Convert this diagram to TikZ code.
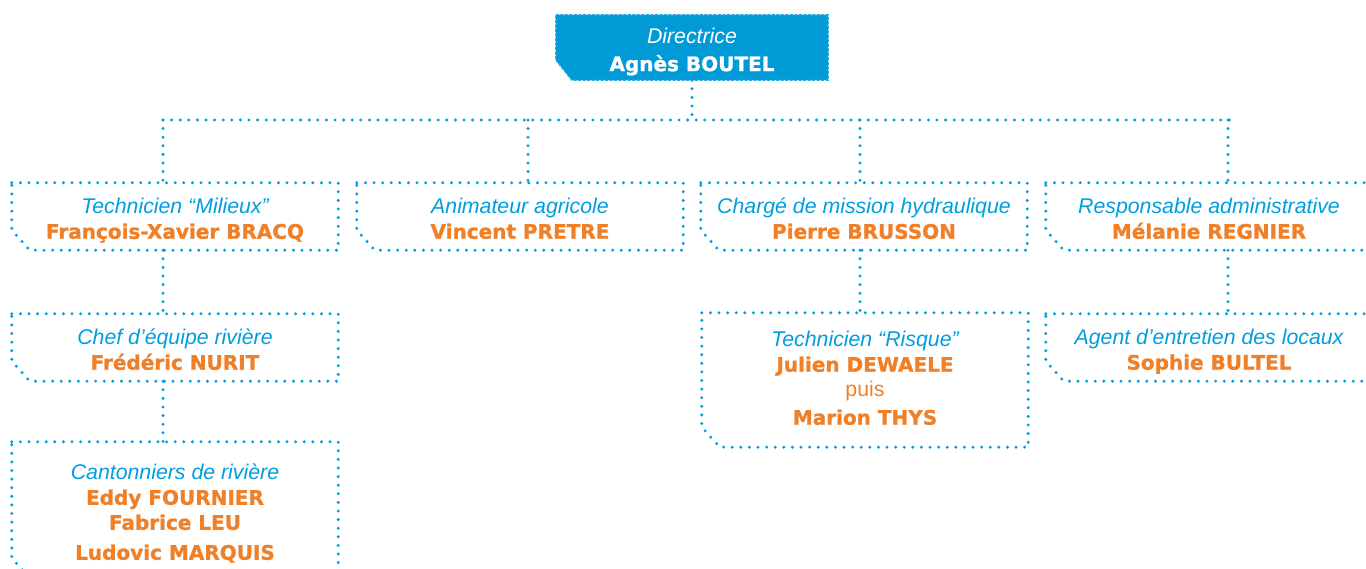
\documentclass[tikz,border=0pt]{standalone}
\usepackage{fontspec}
\usepackage{xcolor}
\usepackage{tikz}
\usetikzlibrary{backgrounds}
\setmainfont{Liberation Sans}
\newfontfamily\namefont{DejaVu Sans}[BoldFeatures={FakeBold=1.2}]
\definecolor{sky}{RGB}{0,158,224}
\definecolor{boss}{RGB}{0,155,215}
\definecolor{ember}{RGB}{240,128,40}
\def\role#1{{\rule{0pt}{23.5pt}\itshape\color{sky}#1}}
\def\who#1{{\namefont\bfseries\fontsize{20}{25}\selectfont\color{ember}#1\rule[-4pt]{0pt}{0pt}}}
\def\chamfer#1{\draw[dots] (#1.north west) -- (#1.north east) -- (#1.south east) -- ([xshift=18pt]#1.south west) -- ([yshift=20pt]#1.south west) -- cycle}
\tikzstyle{dots}=[sky,line width=3.3pt,line cap=round,dash pattern=on 0pt off 8.6pt]
\tikzstyle{card}=[minimum width=326pt,minimum height=67pt,inner sep=0pt,align=center,font=\fontsize{21.3}{25}\selectfont]
\tikzstyle{head}=[card,minimum width=272pt,minimum height=65pt,text=white]

\begin{document}
\begin{tikzpicture}[x=1pt,y=-1pt]
    \useasboundingbox (0,0) rectangle (1366,569);
    \clip (0,0) rectangle (1366,569);
    \node[head] (dir) at (692,47.5) {{\rule{0pt}{23.5pt}\itshape Directrice}\\[3pt]{\namefont\bfseries\fontsize{20}{25}\selectfont Agnès BOUTEL\rule[-4pt]{0pt}{0pt}}};
    \begin{scope}[on background layer]
      \fill[boss] (dir.north west) -- (dir.north east) -- (dir.south east) -- ([xshift=16pt]dir.south west) -- ([yshift=20pt]dir.south west) -- cycle;
      \draw[boss!85!white,line width=1.2pt,dash pattern=on 3pt off 1.5pt] (dir.north west) -- (dir.north east) -- (dir.south east) -- ([xshift=16pt]dir.south west) -- ([yshift=20pt]dir.south west) -- cycle;
    \end{scope}
    \node[card] (milieux) at (175,216.5) {\role{Technicien “Milieux”}\\\who{François-Xavier BRACQ}};
    \node[card] (agri) at (520,216.5) {\role{Animateur agricole}\\\who{Vincent PRETRE}};
    \node[card] (hydro) at (864,216.5) {\role{Chargé de mission hydraulique}\\\who{Pierre BRUSSON}};
    \node[card] (admin) at (1209,216.5) {\role{Responsable administrative}\\\who{Mélanie REGNIER}};
    \node[card] (chef) at (175,347.5) {\role{Chef d’équipe rivière}\\\who{Frédéric NURIT}};
    \node[card,minimum height=136pt] (canto) at (175,510) {\role{Cantonniers de rivière}\\\who{Eddy FOURNIER}\\\who{Fabrice LEU}\\[5pt]\who{Ludovic MARQUIS}};
    \node[card,minimum height=134pt] (risque) at (865,380) {{\itshape\color{sky}Technicien “Risque”}\\\who{Julien DEWAELE}\\{\color{ember}puis}\\[3pt]\who{Marion THYS}};
    \node[card] (agent) at (1209,347.5) {\role{Agent d’entretien des locaux}\\\who{Sophie BULTEL}};
    \foreach \n in {milieux,agri,hydro,admin,chef,canto,risque,agent} {\chamfer{\n};}
    % liaisons
    \coordinate (busw) at (163,120);
    \coordinate (buse) at (1230,120);
    \draw[dots] (dir.south) -- (dir.south |- busw);
    \draw[dots] (busw) -- (buse);
    \foreach \x/\n in {163/milieux,528/agri,860/hydro,1228/admin} {
      \coordinate (tap\n) at (\x,120);
      \draw[dots] (tap\n) -- (tap\n |- \n.north);
    }
    \draw[dots] (milieux.south -| tapmilieux) -- (chef.north -| tapmilieux);
    \draw[dots] (chef.south -| tapmilieux) -- (canto.north -| tapmilieux);
    \draw[dots] (hydro.south -| taphydro) -- (risque.north -| taphydro);
    \draw[dots] (admin.south -| tapadmin) -- (agent.north -| tapadmin);
\end{tikzpicture}
\end{document}
